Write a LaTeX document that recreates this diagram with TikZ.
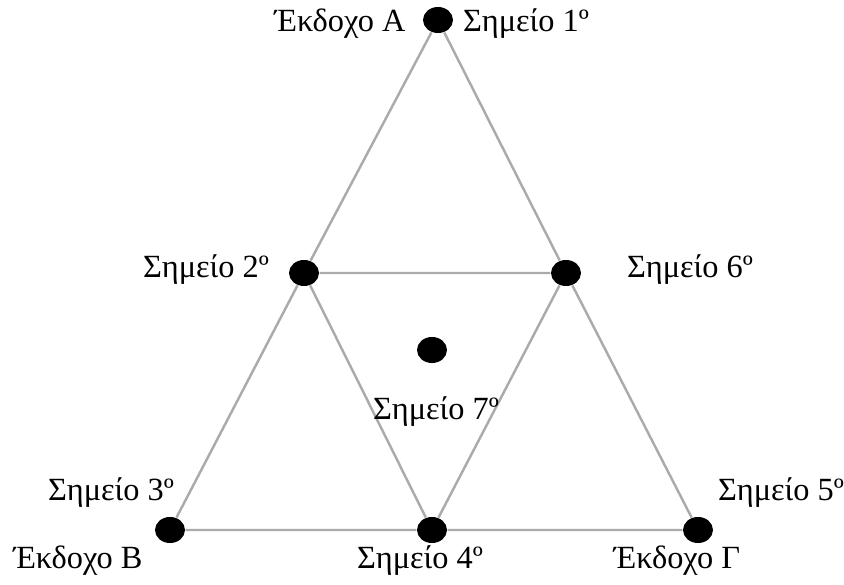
\documentclass[tikz,border=0pt]{standalone}
\usepackage{fontspec}
\setmainfont{Liberation Serif}
\usetikzlibrary{shapes.geometric}

\begin{document}
\begin{tikzpicture}[x=0.01cm,y=-0.01cm,dot/.style={ellipse,fill=black,inner sep=0pt,minimum width=0.3cm,minimum height=0.26cm},line/.style={draw=black!33,line width=0.7pt},lab/.style={font=\fontsize{9.2}{11}\selectfont,inner sep=0pt}]
\useasboundingbox(0,0)rectangle(844,585);
\node[dot](p1)at(438,20){};\node[dot](p2)at(304,273){};\node[dot](p6)at(566,273){};
\node[dot](p3)at(170,530){};\node[dot](p4)at(432,530){};\node[dot](p5)at(698,530){};
\node[dot](p7)at(432,350){};
\draw[line](p1)--(p2)--(p3)--(p4)--(p5)--(p6)--(p1);
\draw[line](p2)--(p6)--(p4)--(p2);
\node[lab](ea)at(340,24){Έκδοχο Α};\node[lab](l1)at(526,24){Σημείο 1º};
\node[lab](l2)at(206,270){Σημείο 2º};\node[lab](l6)at(690,270){Σημείο 6º};
\node[lab](l7)at(436,412){Σημείο 7º};
\node[lab](l3)at(111,493){Σημείο 3º};\node[lab](l5)at(781,493){Σημείο 5º};
\node[lab](eb)at(78,561){Έκδοχο Β};\node[lab](l4)at(420,561){Σημείο 4º};\node[lab](eg)at(677,561){Έκδοχο Γ};
\end{tikzpicture}
\end{document}
